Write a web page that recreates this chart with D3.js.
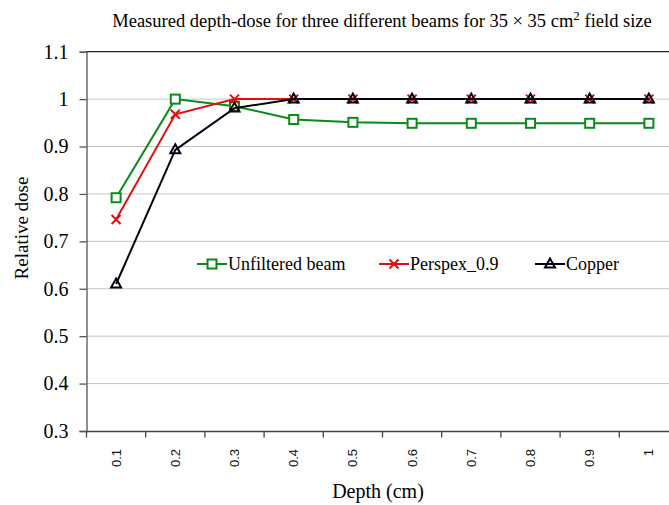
<!DOCTYPE html>
<html><head><meta charset="utf-8">
<script src="https://cdn.jsdelivr.net/npm/d3@7"></script>
<style>html,body{margin:0;padding:0;background:#fff;}</style>
</head><body>
<svg id="c" width="669" height="505"></svg>
<script>
const categories = ["0.1","0.2","0.3","0.4","0.5","0.6","0.7","0.8","0.9","1"];
const unfiltered = [0.792,1.0,0.985,0.957,0.951,0.949,0.949,0.949,0.949,0.949];
const perspex = [0.746,0.968,1.0,1.0,1.0,1.0,1.0,1.0,1.0,1.0];
const copper = [0.610,0.893,0.981,1.0,1.0,1.0,1.0,1.0,1.0,1.0];
const yTicks = [0.3,0.4,0.5,0.6,0.7,0.8,0.9,1,1.1];
const seriesNames = ["Unfiltered beam","Perspex_0.9","Copper"];

const SERIF = '"Liberation Serif"';
const SANS = '"Liberation Sans"';
const svg = d3.select("#c");
const L = 86.5, R = 678.5, T = 51.7, B = 431;
const x = d3.scaleBand().domain(categories).range([L, R]);
const y = d3.scaleLinear().domain([0.3, 1.1]).range([B, T]);

// gridlines
svg.append("g").selectAll("line").data(yTicks.filter(v => v > 0.3 && v < 1.1)).join("line")
  .attr("x1", L).attr("x2", 669).attr("y1", d => y(d)).attr("y2", d => y(d))
  .attr("stroke", "#888").attr("stroke-width", 1).attr("stroke-dasharray", "1,1");
svg.append("line").attr("x1", L).attr("x2", 669).attr("y1", y(1.1)).attr("y2", y(1.1))
  .attr("stroke", "#222").attr("stroke-width", 1.3);

// y axis
const ya = svg.append("g").attr("transform", `translate(${L},0)`)
  .call(d3.axisLeft(y).tickValues(yTicks).tickSize(7).tickPadding(11).tickFormat(d3.format("~g")));
ya.select(".domain").attr("stroke", "#555").attr("stroke-width", 1.3);
ya.selectAll(".tick line").attr("stroke", "#555").attr("stroke-width", 1.3);
ya.selectAll("text").style("font-family", SERIF).style("font-size", "20px").attr("fill", "#000");

// x axis
const xa = svg.append("g").attr("transform", `translate(0,${B})`)
  .call(d3.axisBottom(x).tickSize(0).tickSizeOuter(0));
xa.select(".domain").attr("stroke", "#444").attr("stroke-width", 1.5);
xa.selectAll(".tick line").remove();
xa.selectAll(".tick text").style("font-family", SANS).style("font-size", "13px")
  .attr("fill", "#111").attr("text-anchor", "end").attr("transform", "rotate(-90)")
  .attr("x", -18).attr("y", 0).attr("dy", "0.35em");
const bounds = categories.map(c => x(c));
svg.append("g").selectAll("line").data(bounds).join("line")
  .attr("x1", d => d).attr("x2", d => d).attr("y1", B).attr("y2", B + 6.5)
  .attr("stroke", "#444").attr("stroke-width", 1.3);

const cx = c => x(c) + x.bandwidth() / 2;
const line = d3.line().x((d, i) => cx(categories[i])).y(d => y(d));

function drawSeries(vals, color, marker) {
  const g = svg.append("g");
  g.append("path").datum(vals).attr("d", line).attr("fill", "none")
    .attr("stroke", color).attr("stroke-width", 2);
  vals.forEach((v, i) => marker(g, cx(categories[i]), y(v)));
}
const green = "#0a8a1a", red = "#e01010", black = "#000010";
function sq(g, px, py) {
  g.append("rect").attr("x", px - 4.5).attr("y", py - 4.5).attr("width", 9).attr("height", 9)
    .attr("fill", "#fff").attr("stroke", green).attr("stroke-width", 2);
}
function xm(g, px, py) {
  g.append("path").attr("d", `M${px-4.5},${py-4.5}L${px+4.5},${py+4.5}M${px-4.5},${py+4.5}L${px+4.5},${py-4.5}`)
    .attr("stroke", red).attr("stroke-width", 2);
}
function tri(g, px, py) {
  g.append("path").attr("d", `M${px},${py-5.5}L${px+5},${py+3.5}L${px-5},${py+3.5}Z`)
    .attr("fill", "none").attr("stroke", black).attr("stroke-width", 2);
}
drawSeries(unfiltered, green, sq);
drawSeries(perspex, red, xm);
drawSeries(copper, black, tri);

// legend
const leg = [{n: seriesNames[0], c: green, m: sq, x: 197}, {n: seriesNames[1], c: red, m: xm, x: 379}, {n: seriesNames[2], c: black, m: tri, x: 535}];
const ly = 264;
leg.forEach(d => {
  const g = svg.append("g");
  g.append("line").attr("x1", d.x).attr("x2", d.x + 30).attr("y1", ly).attr("y2", ly).attr("stroke", d.c).attr("stroke-width", 2);
  d.m(g, d.x + 15, ly);
  g.append("text").attr("x", d.x + 31).attr("y", ly).attr("dy", "0.35em").style("font-family", SERIF)
    .style("font-size", "18px").attr("fill", "#000").text(d.n);
});

// titles
const t = svg.append("text").attr("x", 382).attr("y", 27).attr("text-anchor", "middle")
  .style("font-family", SERIF).style("font-size", "18.5px").attr("fill", "#000");
t.append("tspan").text("Measured depth-dose for three different beams for 35 × 35 cm");
t.append("tspan").style("font-size", "13px").attr("dy", -7).text("2");
t.append("tspan").attr("dy", 7).text(" field size");

svg.append("text").attr("x", 378).attr("y", 498).attr("text-anchor", "middle")
  .style("font-family", SERIF).style("font-size", "20px").attr("fill", "#000").text("Depth (cm)");
svg.append("text").attr("transform", "translate(28,228) rotate(-90)").attr("text-anchor", "middle")
  .style("font-family", SERIF).style("font-size", "19px").attr("fill", "#000").text("Relative dose");
</script>
</body></html>
